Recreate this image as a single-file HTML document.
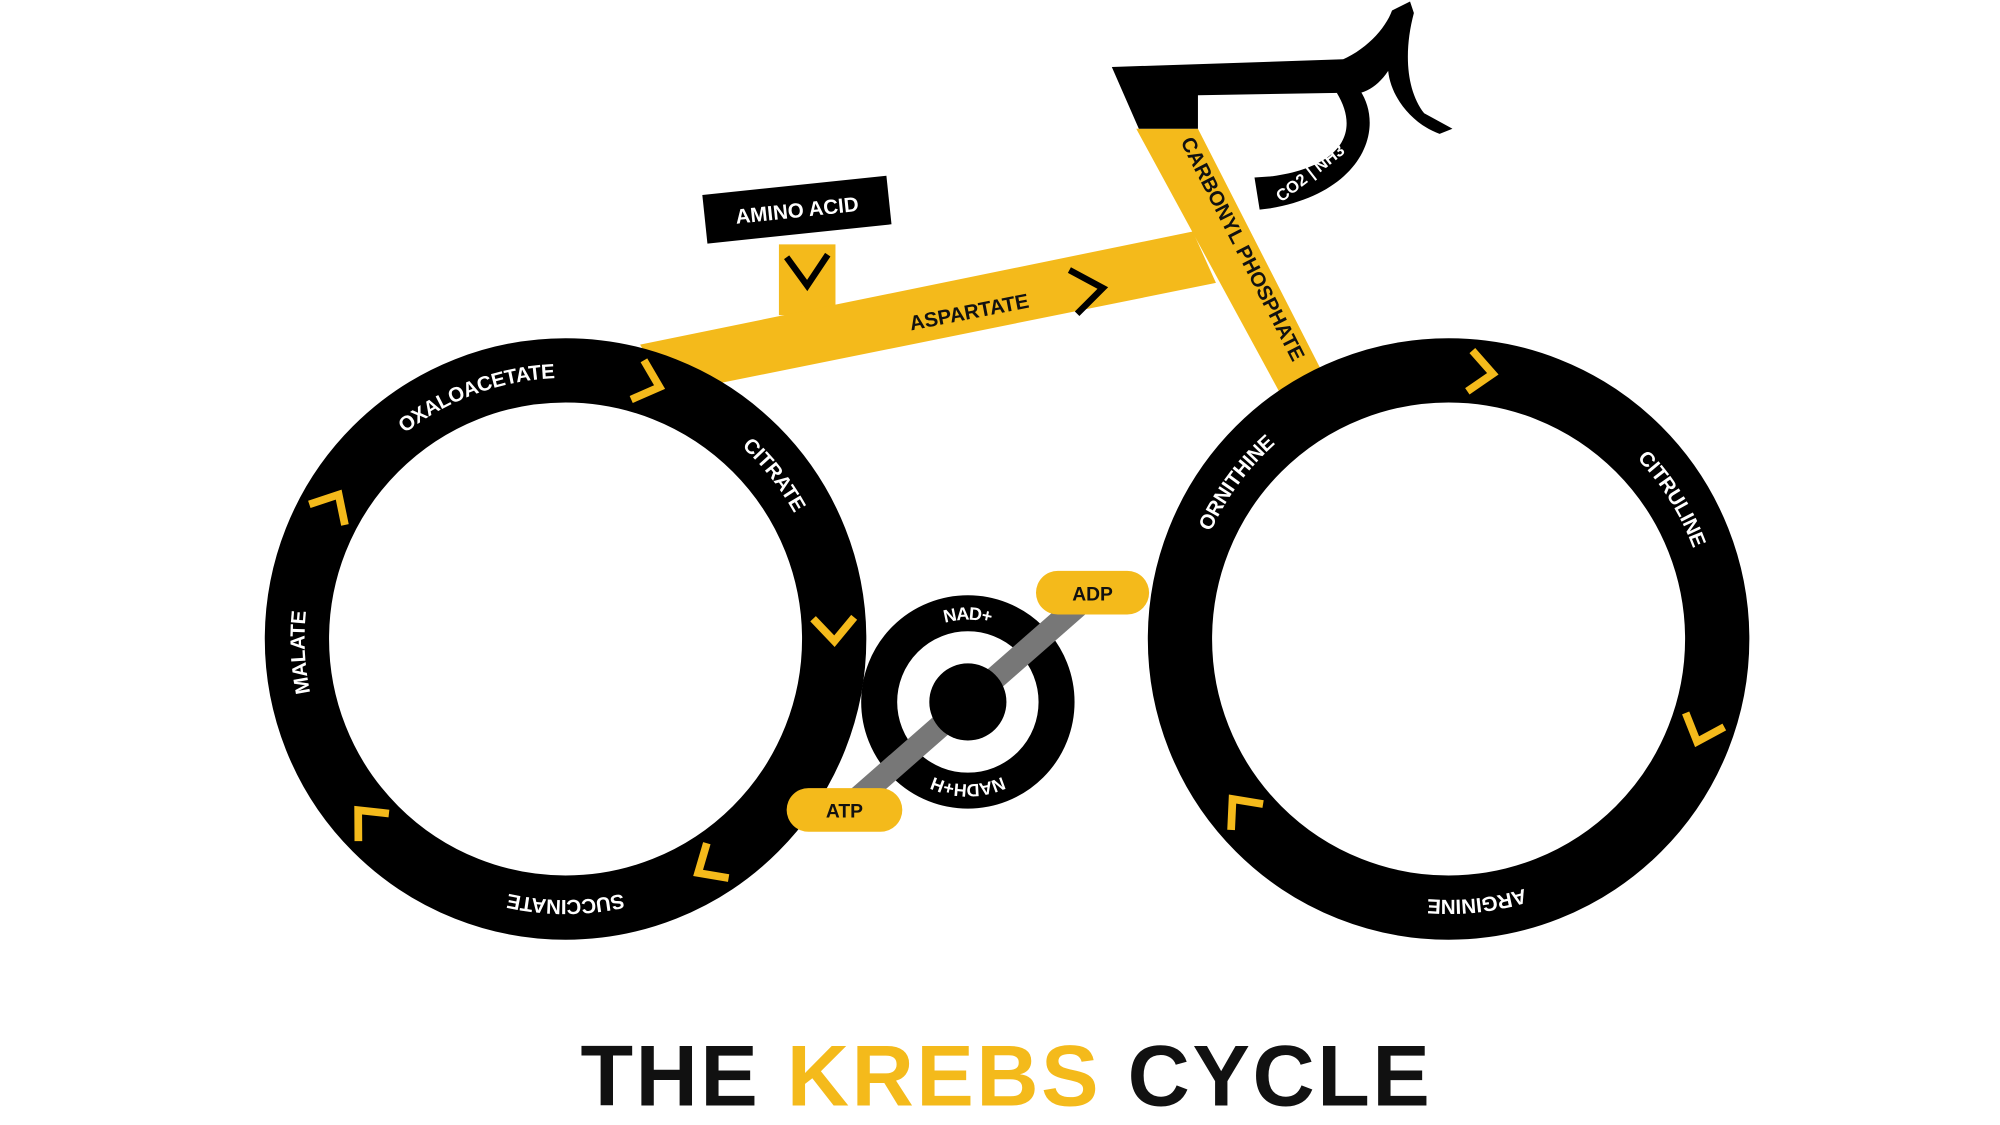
<!DOCTYPE html>
<html><head><meta charset="utf-8"><style>
html,body{margin:0;padding:0;background:#fff;}
svg{display:block;}
text{font-family:"Liberation Sans",sans-serif;font-weight:bold;}
</style></head><body>
<svg width="2000" height="1125" viewBox="0 0 1556 875" xmlns="http://www.w3.org/2000/svg">
<defs>
<path id="lw" d="M649,497 A209,209 0 1,1 231,497 A209,209 0 1,1 649,497"/>
<path id="rw" d="M1336,497 A209,209 0 1,1 918,497 A209,209 0 1,1 1336,497"/>
<path id="cr" d="M822,546 A69,69 0 1,1 684,546 A69,69 0 1,1 822,546"/>
</defs>
<rect width="1556" height="875" fill="#fff"/>
<!-- frame -->
<polygon points="606,190 650,190 650,245 606,245" fill="#F4BA1B"/>
<polygon points="498,268 928,180 946,220 520,306" fill="#F4BA1B"/>
<polygon points="884,100 932,100 1028,288 996,306" fill="#F4BA1B"/>
<!-- stem / handlebar -->
<polygon points="865,52 1045,46 1048,72 932,74 932,100 886,100" fill="#000"/>
<path d="M1040,48 C1062,40 1078,22 1083,8 L1097,1 L1100,10 C1092,40 1094,70 1108,88 L1130,100 L1120,104 C1098,96 1082,75 1080,55 C1070,70 1058,74 1045,74 Z" fill="#000"/>
<path d="M1040,72 L1058,70 C1078,100 1060,150 988,162 L980,163 L976,138 L990,137 C1040,130 1060,105 1040,72 Z" fill="#000"/>
<text transform="translate(1022,138) rotate(-38)" font-size="13" fill="#fff" text-anchor="middle">CO2 | NH3</text>
<!-- amino acid -->
<g transform="translate(620,163) rotate(-6)"><rect x="-72" y="-19" width="144" height="38" fill="#000"/>
<text y="6" font-size="16" fill="#fff" text-anchor="middle">AMINO ACID</text></g>
<polyline points="612,200 628,222 644,198" fill="none" stroke="#000" stroke-width="5"/>
<polyline points="832,210 858,224 838,244" fill="none" stroke="#000" stroke-width="5"/>
<text transform="translate(755,248) rotate(-11)" font-size="16" fill="#111" text-anchor="middle">ASPARTATE</text>
<text transform="translate(962,196) rotate(63)" font-size="16" fill="#111" text-anchor="middle">CARBONYL PHOSPHATE</text>
<!-- wheels -->
<circle cx="440" cy="497" r="209" fill="none" stroke="#000" stroke-width="50"/>
<circle cx="1127" cy="497" r="209" fill="none" stroke="#000" stroke-width="50"/>
<g font-size="16" fill="#fff">
<text dy="6"><textPath href="#lw" startOffset="69.4%" text-anchor="middle">OXALOACETATE</textPath></text>
<text dy="6"><textPath href="#lw" startOffset="89.4%" text-anchor="middle">CITRATE</textPath></text>
<text dy="6"><textPath href="#lw" startOffset="49.2%" text-anchor="middle">MALATE</textPath></text>
<text dy="6"><textPath href="#lw" startOffset="25%" text-anchor="middle">SUCCINATE</textPath></text>
<text dy="6"><textPath href="#rw" startOffset="60.1%" text-anchor="middle">ORNITHINE</textPath></text>
<text dy="6"><textPath href="#rw" startOffset="91.1%" text-anchor="middle">CITRULINE</textPath></text>
<text dy="6"><textPath href="#rw" startOffset="23.3%" text-anchor="middle">ARGININE</textPath></text>
</g>
<g fill="none" stroke="#F4BA1B" stroke-width="6">
<g transform="translate(440,497) rotate(-72) translate(209,0) rotate(90)"><polyline points="-9,-16 9,0 -9,16"/></g>
<g transform="translate(440,497) rotate(-2) translate(209,0) rotate(90)"><polyline points="-9,-16 9,0 -9,16"/></g>
<g transform="translate(440,497) rotate(58) translate(209,0) rotate(90)"><polyline points="-9,-16 9,0 -9,16"/></g>
<g transform="translate(440,497) rotate(138) translate(209,0) rotate(90)"><polyline points="-9,-16 9,0 -9,16"/></g>
<g transform="translate(440,497) rotate(-150) translate(209,0) rotate(90)"><polyline points="-9,-16 9,0 -9,16"/></g>
<g transform="translate(1127,497) rotate(-83) translate(209,0) rotate(90)"><polyline points="-9,-16 9,0 -9,16"/></g>
<g transform="translate(1127,497) rotate(20) translate(209,0) rotate(90)"><polyline points="-9,-16 9,0 -9,16"/></g>
<g transform="translate(1127,497) rotate(141) translate(209,0) rotate(90)"><polyline points="-9,-16 9,0 -9,16"/></g>
</g>
<!-- chainring -->
<circle cx="753" cy="546" r="69" fill="none" stroke="#000" stroke-width="28"/>
<line x1="657" y1="630" x2="850" y2="461" stroke="#777" stroke-width="18"/>
<circle cx="753" cy="546" r="30" fill="#000"/>
<g font-size="14" fill="#fff">
<text dy="5"><textPath href="#cr" startOffset="75%" text-anchor="middle">NAD+</textPath></text>
<text dy="5"><textPath href="#cr" startOffset="25%" text-anchor="middle">NADH+H</textPath></text>
</g>
<rect x="612" y="613" width="90" height="34" rx="17" fill="#F4BA1B"/>
<text x="657" y="636" font-size="15" fill="#111" text-anchor="middle">ATP</text>
<rect x="806" y="444" width="88" height="34" rx="17" fill="#F4BA1B"/>
<text x="850" y="467" font-size="15" fill="#111" text-anchor="middle">ADP</text>
<!-- title -->
<text x="783" y="860" font-size="67" text-anchor="middle" letter-spacing="2"><tspan fill="#111">THE </tspan><tspan fill="#F4BA1B">KREBS</tspan><tspan fill="#111"> CYCLE</tspan></text>
</svg>
</body></html>
